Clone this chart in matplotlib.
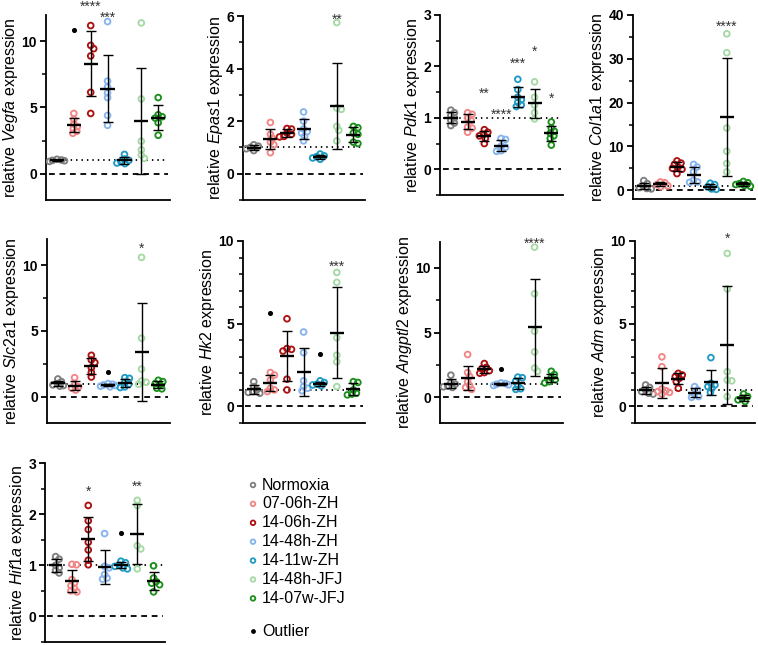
import numpy as np
import matplotlib
matplotlib.use('Agg')
import matplotlib.pyplot as plt

plt.rcParams['font.family'] = ['Liberation Sans', 'DejaVu Sans']
plt.rcParams['mathtext.fontset'] = 'custom'
plt.rcParams['mathtext.rm'] = 'Liberation Sans'
plt.rcParams['mathtext.it'] = 'Liberation Sans:italic'

groups = ['Normoxia', '07-06h-ZH', '14-06h-ZH', '14-48h-ZH', '14-11w-ZH', '14-48h-JFJ', '14-07w-JFJ']
colors = ['#7f7f7f', '#f28585', '#ad1111', '#86b4ee', '#1f9bc6', '#a5d9a5', '#1a901a']

genes = ['Vegfa', 'Epas1', 'Pdk1', 'Col1a1', 'Slc2a1', 'Hk2', 'Angptl2', 'Adm', 'Hif1a']

# relative expression per group (outliers kept apart)
vegfa = [[0.92, 0.97, 1.0, 1.03, 1.08],
         [4.55, 4.1, 3.75, 3.55, 3.4, 3.05, 3.2],
         [11.2, 9.7, 9.45, 8.9, 6.15, 4.55],
         [11.5, 7.0, 6.55, 6.1, 5.75, 4.4, 3.65],
         [1.45, 1.1, 1.0, 0.9, 0.75, 0.8],
         [11.4, 5.65, 2.45, 1.8, 1.4, 1.15],
         [5.75, 4.45, 4.3, 4.2, 3.85, 2.9]]
epas1 = [[1.1, 1.05, 1.0, 0.95, 0.88],
         [1.95, 1.5, 1.35, 1.2, 1.1, 0.8],
         [1.72, 1.7, 1.55, 1.5, 1.42, 1.4],
         [2.35, 2.0, 1.7, 1.6, 1.55, 1.42, 1.25],
         [0.75, 0.68, 0.65, 0.6, 0.55],
         [5.75, 2.5, 2.45, 1.8, 1.65, 1.25],
         [1.8, 1.75, 1.55, 1.5, 1.2, 1.15]]
pdk1 = [[1.15, 1.1, 1.05, 1.0, 0.95, 0.9, 0.85],
        [1.1, 1.07, 1.0, 0.95, 0.82, 0.8, 0.72],
        [0.77, 0.72, 0.68, 0.65, 0.6, 0.5],
        [0.6, 0.58, 0.45, 0.43, 0.35, 0.36],
        [1.75, 1.55, 1.4, 1.35, 1.3, 1.25, 1.22],
        [1.7, 1.4, 1.25, 1.1, 0.98],
        [0.92, 0.8, 0.74, 0.7, 0.65, 0.6, 0.47]]
col1a1 = [[2.2, 1.5, 1.0, 0.6, 0.4, 0.3],
          [1.9, 1.7, 1.3, 1.0, 0.8],
          [6.7, 6.2, 5.9, 5.3, 4.8, 3.8, 5.0],
          [5.9, 5.3, 4.2, 2.3, 1.9, 1.8],
          [1.6, 1.3, 0.8, 0.3, 0.2],
          [35.7, 31.4, 14.2, 8.9, 6.1, 4.2],
          [2.0, 1.7, 1.5, 1.3, 1.1, 0.9]]
slc2a1 = [[1.35, 1.15, 1.0, 0.9, 0.85, 0.8],
          [1.45, 0.9, 0.75, 0.65, 0.5],
          [3.15, 2.8, 2.6, 2.2, 1.85, 1.5],
          [1.0, 0.95, 0.9, 0.85, 0.8, 0.75],
          [1.45, 1.4, 1.1, 0.95, 0.75, 0.7],
          [10.6, 4.45, 2.1, 1.2, 1.1, 0.95],
          [1.25, 1.15, 1.0, 0.9, 0.65, 0.6]]
hk2 = [[1.5, 1.2, 1.0, 0.9, 0.85, 0.8],
       [2.05, 1.9, 1.6, 1.1, 1.0, 0.9],
       [5.3, 3.5, 3.45, 3.35, 1.65, 1.0],
       [4.5, 3.25, 1.55, 1.2, 1.1, 0.95],
       [1.55, 1.45, 1.35, 1.3, 1.25],
       [8.1, 7.5, 4.15, 3.1, 2.7, 1.2],
       [1.5, 1.45, 1.0, 0.8, 0.75, 0.7]]
angptl2 = [[1.7, 1.1, 1.0, 0.85, 0.8, 0.75],
           [3.3, 1.9, 1.6, 1.2, 0.9, 0.75, 0.6],
           [2.6, 2.3, 2.2, 2.05, 1.9, 1.85],
           [1.1, 1.05, 1.0, 0.95, 0.9],
           [1.55, 1.5, 1.25, 0.9, 0.6, 0.65],
           [11.6, 8.0, 5.1, 3.5, 2.25, 2.0],
           [2.0, 1.75, 1.5, 1.35, 1.2, 1.1]]
adm = [[1.3, 1.15, 1.0, 0.9, 0.8, 0.75],
       [3.0, 2.4, 1.05, 0.95, 0.85, 0.75, 0.9],
       [2.0, 1.9, 1.8, 1.7, 1.5, 1.1],
       [1.2, 1.0, 0.75, 0.6, 0.55],
       [2.95, 1.4, 1.3, 1.2, 1.1, 0.85],
       [9.25, 7.1, 2.1, 1.6, 1.55, 0.6],
       [0.75, 0.6, 0.5, 0.4, 0.3]]
hif1a = [[1.17, 1.12, 1.0, 0.95, 0.9, 0.85],
         [1.02, 1.01, 0.72, 0.65, 0.6, 0.55, 0.5, 0.48],
         [2.17, 1.87, 1.7, 1.45, 1.3, 1.1, 1.01],
         [1.62, 0.98, 0.95, 0.82, 0.75, 0.73],
         [1.08, 1.05, 1.0, 0.98, 0.95, 0.93],
         [2.27, 2.17, 1.38, 1.32, 0.93],
         [0.99, 0.75, 0.68, 0.65, 0.62, 0.48]]

# outliers (group index, value)
vegfa_out = [(1, 10.85)]
slc2a1_out = [(3, 1.9)]
hk2_out = [(1, 5.67), (4, 3.18)]
angptl2_out = [(3, 2.18)]
hif1a_out = [(4, 1.64)]

# significance (group index, stars, y of label)
vegfa_sig = [(2, '****', 12.9), (3, '***', 12.1)]
epas1_sig = [(5, '**', 6.03)]
pdk1_sig = [(2, '**', 1.55), (3, '****', 1.14), (4, '***', 2.13), (5, '*', 2.36), (6, '*', 1.46)]
col1a1_sig = [(5, '****', 38.2)]
slc2a1_sig = [(5, '*', 11.6)]
hk2_sig = [(5, '***', 8.69)]
angptl2_sig = [(5, '****', 12.2)]
adm_sig = [(5, '*', 10.4)]
hif1a_sig = [(2, '*', 2.51), (5, '**', 2.61)]

panels = [
    (vegfa, vegfa_out, vegfa_sig, (46, 15, 170, 200), (-2, 12), 5, 2.5),
    (epas1, [], epas1_sig, (243, 16, 365, 200), (-1, 6), 2, 1),
    (pdk1, [], pdk1_sig, (440, 15, 563, 195), (-0.5, 3), 1, 0.5),
    (col1a1, [], col1a1_sig, (633, 15, 755, 199), (-2, 40), 10, 5),
    (slc2a1, slc2a1_out, slc2a1_sig, (47, 239, 170, 423), (-2, 12), 5, 2.5),
    (hk2, hk2_out, hk2_sig, (243, 241, 365, 423), (-1, 10), 5, 1),
    (angptl2, angptl2_out, angptl2_sig, (440, 242, 563, 423), (-2, 12), 5, 2.5),
    (adm, [], adm_sig, (635, 241, 755, 423), (-1, 10), 5, 1),
    (hif1a, hif1a_out, hif1a_sig, (45, 463, 165, 642), (-0.5, 3), 1, 0.5),
]

W, H = 758, 645
fig = plt.figure(figsize=(W / 100, H / 100), dpi=100)
XLIM = (-0.65, 6.7)


def swarm(vals, xppu, yppu, d=4.3, maxoff=7.5):
    # simple beeswarm with a width cap, offsets in data units
    ypx = np.asarray(vals) * yppu
    order = np.argsort(-ypx)
    placed = []
    offs = np.zeros(len(vals))
    cands = [0.0]
    for k in np.arange(0.5, maxoff + 0.01, 0.5):
        cands += [k, -k]
    for i in order:
        best, bestd = 0.0, -1
        for c in cands:
            md = min([np.hypot(c - px, ypx[i] - py) for px, py in placed] + [99])
            if md >= d:
                best = c
                break
            if md > bestd:
                best, bestd = c, md
        placed.append((best, ypx[i]))
        offs[i] = best / xppu
    return offs


for gene, (data, outl, sig, box, ylim, major, minor) in zip(genes, panels):
    x0, y0, x1, y1 = box
    ax = fig.add_axes([x0 / W, 1 - y1 / H, (x1 - x0) / W, (y1 - y0) / H])
    ax.set_xlim(*XLIM)
    ax.set_ylim(*ylim)
    xppu = (x1 - x0) / (XLIM[1] - XLIM[0])
    yppu = (y1 - y0) / (ylim[1] - ylim[0])

    ax.hlines(0, -0.5, 6.6, colors='black', linestyles=(0, (3.2, 2.6)), lw=1.3, zorder=1)
    ax.hlines(1, -0.5, 6.6, colors='black', linestyles=(0, (0.8, 2.2)), lw=1.3, zorder=1)

    for i, vals in enumerate(data):
        vals = np.array(vals)
        xs = i + swarm(vals, xppu, yppu)
        ax.scatter(xs, vals, s=17, facecolors='none', edgecolors=colors[i], linewidths=1.35, zorder=3)
        m, sd = vals.mean(), vals.std(ddof=1)
        ax.errorbar(i, m, yerr=sd, fmt='none', ecolor='black', elinewidth=1.0,
                    capsize=3.5, capthick=1.0, zorder=4)
        ax.hlines(m, i - 0.42, i + 0.42, colors='black', lw=1.7, zorder=5)

    for gi, v in outl:
        ax.scatter([gi], [v], s=7, color='black', zorder=5)

    for gi, s, yv in sig:
        ax.annotate(s, (gi, yv), xytext=(0, -3), textcoords='offset points',
                    ha='center', va='center', fontsize=10, color='#333333',
                    annotation_clip=False)

    for side in ['top', 'right']:
        ax.spines[side].set_visible(False)
    for side in ['left', 'bottom']:
        ax.spines[side].set_linewidth(1.3)
    ax.set_xticks([])
    majors = np.arange(0, ylim[1] + 1e-9, major)
    ax.set_yticks(majors)
    ax.set_yticklabels(['%g' % t for t in majors], fontweight='bold', fontsize=10)
    ax.set_yticks(np.arange(np.ceil(ylim[0] / minor) * minor, ylim[1] + 1e-9, minor), minor=True)
    ax.tick_params(axis='y', which='major', length=4.5, width=1.3, pad=2)
    ax.tick_params(axis='y', which='minor', length=3, width=1.1)
    ax.set_ylabel('relative $\\mathit{%s}$ expression' % gene, fontsize=11.5, labelpad=1)

# legend
lax = fig.add_axes([0, 0, 1, 1])
lax.set_xlim(0, W)
lax.set_ylim(H, 0)
lax.axis('off')
for i, (name, c) in enumerate(zip(groups, colors)):
    yy = 485 + 18.9 * i
    lax.scatter([253], [yy], s=11, facecolors='none', edgecolors=c, linewidths=1.3)
    lax.text(262, yy, name, fontsize=11.5, va='center', ha='left')
lax.scatter([253], [631], s=6, color='black')
lax.text(262, 631, 'Outlier', fontsize=11.5, va='center', ha='left')

fig.savefig('out.png', dpi=100)
